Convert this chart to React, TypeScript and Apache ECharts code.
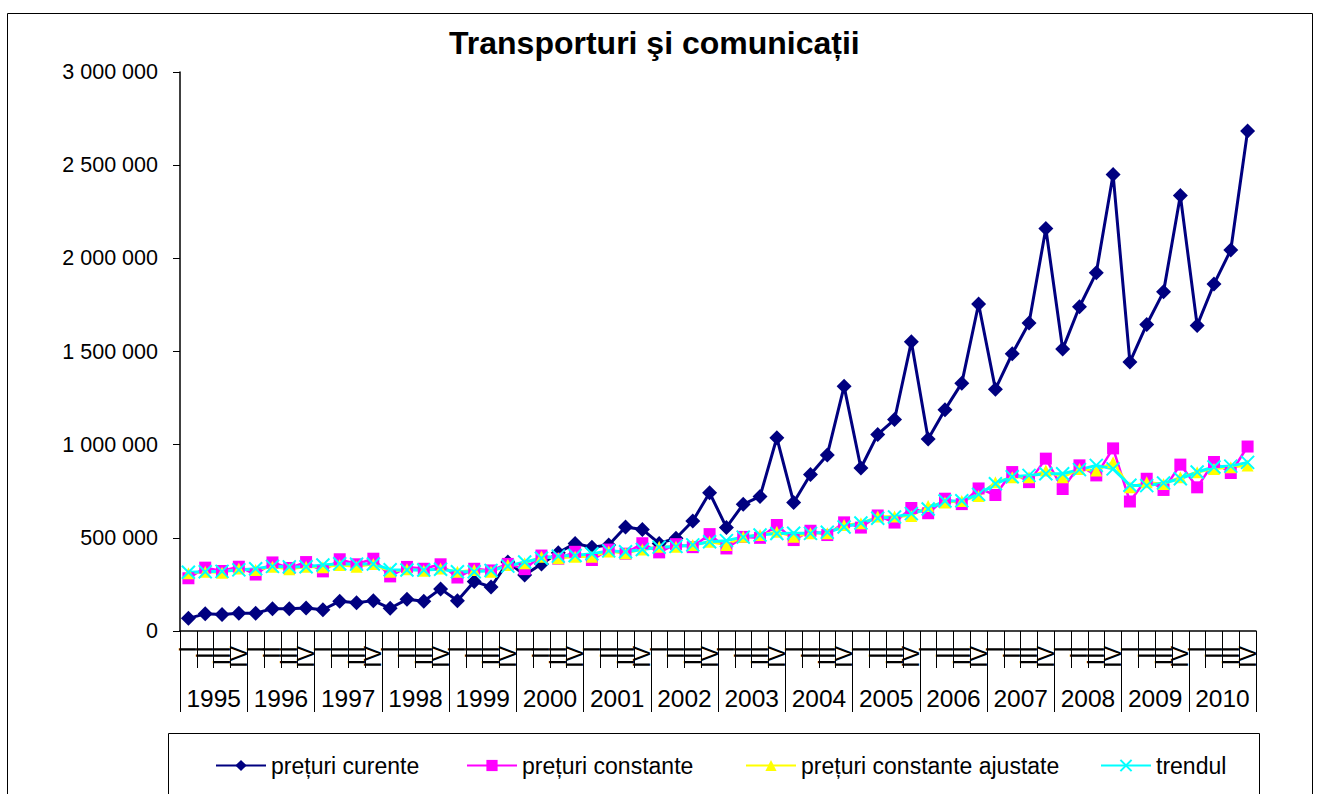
import React, { useEffect, useRef } from "react";
import * as echarts from "echarts";

const years = ["1995","1996","1997","1998","1999","2000","2001","2002","2003","2004","2005","2006","2007","2008","2009","2010"];
const quarterNames = ["I", "II", "III", "IV"];

const preturiCurente = [
  68000, 92000, 89000, 95000,
  95000, 120000, 120000, 123000,
  114000, 160000, 152000, 163000,
  122000, 170000, 160000, 226000,
  162000, 266000, 236000, 370000,
  300000, 360000, 420000, 470000,
  450000, 462000, 558000, 545000,
  470000, 498000, 590000, 742000,
  556000, 680000, 722000, 1037000,
  690000, 840000, 945000, 1313000,
  875000, 1055000, 1135000, 1552000,
  1030000, 1188000, 1330000, 1755000,
  1298000, 1488000, 1653000, 2160000,
  1513000, 1740000, 1922000, 2450000,
  1443000, 1645000, 1820000, 2337000,
  1640000, 1862000, 2045000, 2683000,
];

const preturiConstante = [
  283000, 340000, 322000, 345000,
  303000, 368000, 338000, 370000,
  320000, 385000, 358000, 388000,
  293000, 344000, 334000, 358000,
  287000, 334000, 325000, 360000,
  332000, 405000, 388000, 425000,
  381000, 437000, 415000, 471000,
  422000, 466000, 450000, 520000,
  443000, 505000, 500000, 569000,
  488000, 538000, 515000, 583000,
  555000, 620000, 582000, 660000,
  632000, 710000, 681000, 765000,
  730000, 853000, 799000, 925000,
  762000, 889000, 835000, 980000,
  695000, 817000, 757000, 893000,
  771000, 907000, 848000, 990000,
];

const preturiAjustate = [
  310000, 318000, 313000, 336000,
  327000, 345000, 331000, 345000,
  342000, 354000, 345000, 360000,
  318000, 331000, 324000, 336000,
  318000, 327000, 318000, 354000,
  363000, 399000, 390000, 399000,
  399000, 426000, 417000, 438000,
  452000, 452000, 462000, 479000,
  462000, 506000, 515000, 533000,
  506000, 524000, 524000, 569000,
  578000, 614000, 614000, 617000,
  671000, 689000, 698000, 725000,
  798000, 825000, 825000, 861000,
  825000, 870000, 861000, 906000,
  771000, 798000, 789000, 825000,
  852000, 870000, 879000, 888000,
];

const trendul = [
  315000, 318000, 320000, 328000,
  334000, 347000, 344000, 345000,
  354000, 361000, 359000, 360000,
  329000, 327000, 327000, 331000,
  318000, 318000, 325000, 348000,
  370000, 390000, 402000, 405000,
  415000, 430000, 425000, 437000,
  450000, 454000, 462000, 479000,
  485000, 504000, 515000, 523000,
  525000, 524000, 530000, 558000,
  580000, 605000, 612000, 630000,
  655000, 698000, 699000, 733000,
  790000, 828000, 835000, 844000,
  844000, 866000, 889000, 870000,
  782000, 780000, 794000, 817000,
  853000, 880000, 885000, 905000,
];

const seriesNames = ["prețuri curente", "prețuri constante", "prețuri constante ajustate", "trendul"];
const titleText = "Transporturi şi comunicații";

const FONT = "'Liberation Sans', Arial, sans-serif";

export default function App() {
  const ref = useRef<HTMLDivElement>(null);
  useEffect(() => {
    if (!ref.current) return;
    const chart = echarts.init(ref.current, undefined, { renderer: "svg" });
    const quarters = years.flatMap(() => quarterNames);
    const fmt = (v: number) => String(v).replace(/\B(?=(\d{3})+(?!\d))/g, " ");
    const legendPos = [215, 466, 745, 1100];
    const crossPath = "path://M0,0L10,10M10,0L0,10";
    chart.setOption({
      animation: false,
      backgroundColor: "#ffffff",
      textStyle: { fontFamily: FONT },
      title: {
        text: titleText,
        left: 449,
        top: 27,
        padding: 0,
        textStyle: { fontFamily: FONT, fontSize: 32, fontWeight: "bold", color: "#000" },
      },
      legend: seriesNames.map((n, i) => ({
        data: [n],
        left: legendPos[i],
        top: 754,
        padding: 0,
        itemWidth: 50,
        itemHeight: 14,
        textStyle: { fontFamily: FONT, fontSize: 23, color: "#000" },
      })),
      graphic: [
        { type: "rect", shape: { x: 7.5, y: 13.5, width: 1305, height: 800 }, style: { fill: "none", stroke: "#000", lineWidth: 1 }, silent: true, z: -10 },
        { type: "rect", shape: { x: 168.5, y: 733.5, width: 1091, height: 80 }, style: { fill: "none", stroke: "#000", lineWidth: 1 }, silent: true, z: -10 },
      ],
      grid: { left: 180, right: 65, top: 72, bottom: 163, containLabel: false },
      xAxis: [
        {
          type: "category",
          data: quarters,
          position: "bottom",
          boundaryGap: true,
          axisLine: { show: true, lineStyle: { color: "#000", width: 1.5 } },
          axisTick: { show: true, interval: 0, length: 37, lineStyle: { color: "#000", width: 1 } },
          axisLabel: { interval: 0, rotate: 90, fontSize: 23, margin: 15, color: "#000", fontFamily: FONT },
          splitLine: { show: false },
        },
        {
          type: "category",
          data: years,
          position: "bottom",
          boundaryGap: true,
          axisLine: { show: false },
          axisTick: { show: true, interval: 0, length: 81, lineStyle: { color: "#000", width: 1 } },
          axisLabel: { interval: 0, fontSize: 24.5, margin: 55, color: "#000", fontFamily: FONT },
          splitLine: { show: false },
        },
      ],
      yAxis: {
        type: "value",
        min: 0,
        max: 3000000,
        interval: 500000,
        axisLine: { show: true, lineStyle: { color: "#000", width: 1.5 } },
        axisTick: { show: true, inside: false, length: 7, lineStyle: { color: "#000" } },
        axisLabel: { formatter: fmt, fontSize: 21.5, margin: 22, color: "#000", fontFamily: FONT },
        splitLine: { show: false },
      },
      series: [
        {
          name: seriesNames[0],
          type: "line",
          xAxisIndex: 0,
          data: preturiCurente,
          symbol: "diamond",
          symbolSize: 15,
          showAllSymbol: true,
          itemStyle: { color: "#000080" },
          lineStyle: { color: "#000080", width: 3 },
        },
        {
          name: seriesNames[1],
          type: "line",
          xAxisIndex: 0,
          data: preturiConstante,
          symbol: "rect",
          symbolSize: 12,
          showAllSymbol: true,
          itemStyle: { color: "#ff00ff" },
          lineStyle: { color: "#ff00ff", width: 2.5 },
        },
        {
          name: seriesNames[2],
          type: "line",
          xAxisIndex: 0,
          data: preturiAjustate,
          symbol: "triangle",
          symbolSize: 12,
          showAllSymbol: true,
          itemStyle: { color: "#ffff00" },
          lineStyle: { color: "#ffff00", width: 2.5 },
        },
        {
          name: seriesNames[3],
          type: "line",
          xAxisIndex: 0,
          data: trendul,
          symbol: crossPath,
          symbolSize: 13,
          showAllSymbol: true,
          itemStyle: { color: "#00ffff", borderColor: "#00ffff", borderWidth: 2 },
          lineStyle: { color: "#00ffff", width: 3 },
        },
      ],
    });
    return () => chart.dispose();
  }, []);
  return <div ref={ref} style={{ position: "absolute", left: 0, top: 0, width: 1321, height: 794 }} />;
}
